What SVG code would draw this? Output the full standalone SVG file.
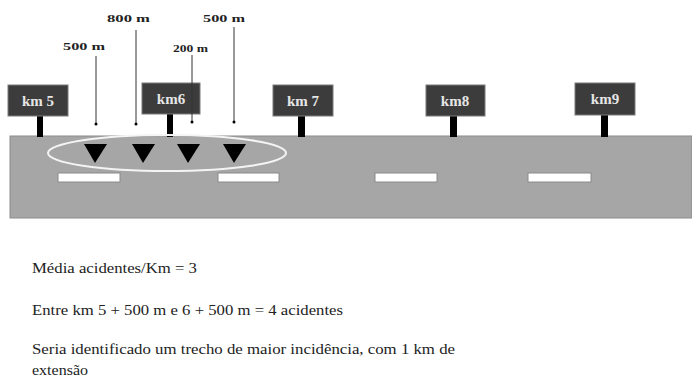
<svg xmlns="http://www.w3.org/2000/svg" width="692" height="379" viewBox="0 0 692 379">
<style>
.sign{fill:#3c3c3c;stroke:#7a7a7a;stroke-width:1}
.post{fill:#000}
.signtxt{font-weight:bold;font-size:15px;fill:#e6e6e6;text-anchor:middle}
.lbl{font-weight:bold;font-size:11px;fill:#222}
.dash{fill:#fff;stroke:#8a8a8a;stroke-width:1}
.tri{fill:#000}
.body{font-size:15px;fill:#222}
.lead{stroke:#333;stroke-width:1}
</style>
<rect width="692" height="379" fill="#fff"/>
<g id="road">
<rect x="10" y="136" width="682" height="82" fill="#a6a6a6" stroke="#8c8c8c" stroke-width="1"/>
<rect class="dash" x="58" y="173" width="62" height="9"/>
<rect class="dash" x="218" y="173" width="61" height="9"/>
<rect class="dash" x="375" y="173" width="62" height="9"/>
<rect class="dash" x="528" y="173" width="63" height="9"/>
</g>
<g font-family="Liberation Serif, DejaVu Serif, serif">
<g id="km5"><rect class="post" x="37" y="116" width="6" height="21"/><rect class="sign" x="8" y="85" width="60" height="31"/><text class="signtxt" x="38" y="106">km 5</text></g>
<g id="km6"><rect class="post" x="167" y="114" width="6" height="23"/><rect class="sign" x="142" y="83" width="58" height="31"/><text class="signtxt" x="171" y="104">km6</text></g>
<g id="km7"><rect class="post" x="298" y="116" width="7" height="21"/><rect class="sign" x="273" y="85" width="60" height="31"/><text class="signtxt" x="303" y="106">km 7</text></g>
<g id="km8"><rect class="post" x="450" y="116" width="7" height="21"/><rect class="sign" x="426" y="85" width="59" height="31"/><text class="signtxt" x="455" y="106">km8</text></g>
<g id="km9"><rect class="post" x="601" y="115" width="7" height="22"/><rect class="sign" x="575" y="83" width="60" height="32"/><text class="signtxt" x="605" y="104">km9</text></g>
<g id="cluster">
<ellipse cx="167" cy="153" rx="119" ry="18" fill="none" stroke="#f4f4f4" stroke-width="2"/>
<polygon class="tri" points="84,144 107,144 95,163"/>
<polygon class="tri" points="132,144 155,144 143,163"/>
<polygon class="tri" points="177,144 200,144 188,163"/>
<polygon class="tri" points="223,144 246,144 234,163"/>
</g>
<g id="connectors">
<line class="lead" x1="96" y1="56" x2="96" y2="124"/><circle cx="96" cy="124" r="1.5" fill="#000"/>
<line class="lead" x1="136" y1="30" x2="136" y2="124"/><circle cx="136" cy="124" r="1.5" fill="#000"/>
<line class="lead" x1="192" y1="55" x2="192" y2="122"/><circle cx="192" cy="122" r="1.5" fill="#000"/>
<line class="lead" x1="234" y1="27" x2="234" y2="122"/><circle cx="234" cy="122" r="1.5" fill="#000"/>
</g>
<g id="labels">
<text class="lbl" x="107" y="22" textLength="43" lengthAdjust="spacingAndGlyphs">800 m</text>
<text class="lbl" x="63" y="50" textLength="42" lengthAdjust="spacingAndGlyphs">500 m</text>
<text class="lbl" x="173" y="52" textLength="35" lengthAdjust="spacingAndGlyphs">200 m</text>
<text class="lbl" x="203" y="22" textLength="42" lengthAdjust="spacingAndGlyphs">500 m</text>
</g>
<g id="notes">
<text class="body" x="32" y="273" textLength="165" lengthAdjust="spacingAndGlyphs">Média acidentes/Km = 3</text>
<text class="body" x="32" y="315" textLength="311" lengthAdjust="spacingAndGlyphs">Entre km 5 + 500 m e 6 + 500 m = 4 acidentes</text>
<text class="body" x="32" y="354" textLength="423" lengthAdjust="spacingAndGlyphs">Seria identificado um trecho de maior incidência, com 1 km de</text>
<text class="body" x="32" y="375" textLength="56" lengthAdjust="spacingAndGlyphs">extensão</text>
</g>
</g>
</svg>
